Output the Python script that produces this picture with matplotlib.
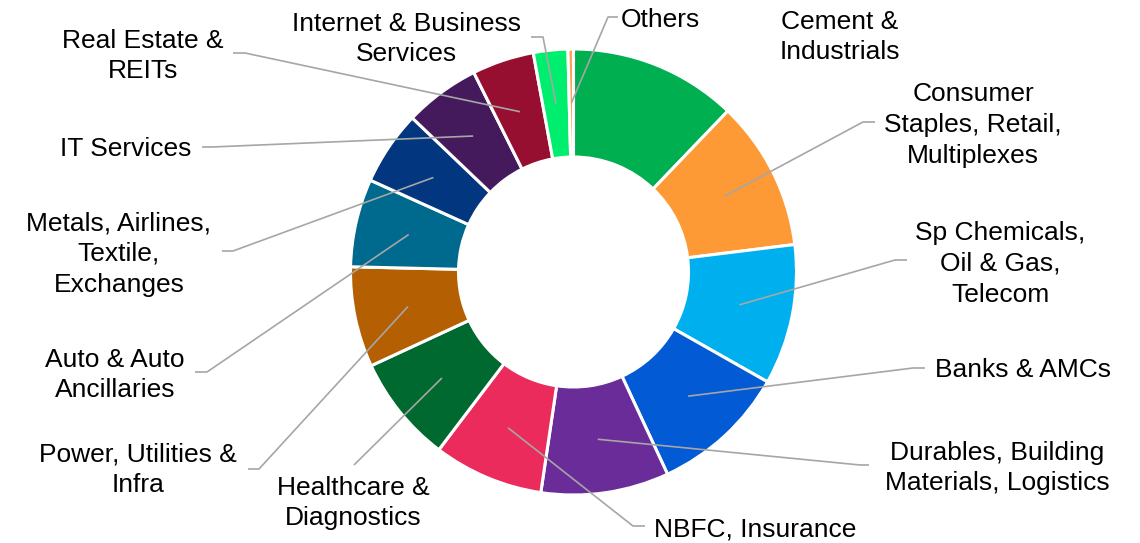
import numpy as np
import matplotlib
matplotlib.use("Agg")
import matplotlib.pyplot as plt

# ---- data ----
categories = [
    "Cement &\nIndustrials",
    "Consumer\nStaples, Retail,\nMultiplexes",
    "Sp Chemicals,\nOil & Gas,\nTelecom",
    "Banks & AMCs",
    "Durables, Building\nMaterials, Logistics",
    "NBFC, Insurance",
    "Healthcare &\nDiagnostics",
    "Power, Utilities &\nInfra",
    "Auto & Auto\nAncillaries",
    "Metals, Airlines,\nTextile,\nExchanges",
    "IT Services",
    "Real Estate &\nREITs",
    "Internet & Business\nServices",
    "Others",
]
weights = [12.2, 10.9, 10.2, 9.9, 9.3, 8.0, 7.8, 7.3, 6.4, 5.4, 5.5, 4.5, 2.5, 0.4]
colors = ["#00B050", "#FD9A35", "#00B0EE", "#025AD4", "#6A2C99", "#EA2B5C",
          "#006930", "#B45F02", "#00698E", "#02367E", "#441A5D", "#960F30",
          "#00EE6E", "#FFA050"]

W, H = 1140, 543
fig = plt.figure(figsize=(W / 100, H / 100), dpi=100)
ax = fig.add_axes([0, 0, 1, 1])
ax.set_xlim(0, W)
ax.set_ylim(0, H)
ax.set_aspect("equal")
ax.axis("off")

def P(x, y):
    """reference pixel coords (y down) -> axes data coords (y up)"""
    return x, H - y

cx, cy = P(573.5, 272)
R = 223
ring = 108
wedges, _ = ax.pie(weights, colors=colors, startangle=90, counterclock=False,
                   radius=R, center=(cx, cy),
                   wedgeprops=dict(width=ring, edgecolor="white", linewidth=2.2))
ax.set_xlim(0, W)
ax.set_ylim(0, H)

# label layout: text centre, leader path points (ref px, y down) ending near label
layout = [
    ((840, 37), []),
    ((973, 125), [(863, 122), (875, 122)]),
    ((1000, 264), [(895, 260), (907, 260)]),
    ((1023, 370), [(913, 368), (925, 368)]),
    ((997, 468), [(860, 465), (869, 465)]),
    ((755, 529), [(633, 526), (645, 526)]),
    ((353, 503), [(354, 465)]),
    ((138, 470), [(259, 469), (248, 469)]),
    ((115, 375), [(207, 372), (195, 372)]),
    ((119, 254), [(233, 251), (222, 251)]),
    ((126, 149), [(212, 147), (202, 147)]),
    ((143, 56), [(245, 53), (233, 53)]),
    ((406, 39), [(543, 37), (531, 37)]),
    ((660, 20), [(608, 17), (618, 17)]),
]

rmid = R - ring / 2
for w, lab, (tpos, path) in zip(wedges, categories, layout):
    tx, ty = P(*tpos)
    ax.text(tx, ty, lab, ha="center", va="center", fontsize=19,
            family=["Liberation Sans", "DejaVu Sans"], linespacing=1.36,
            color="black")
    if path:
        mid = np.deg2rad((w.theta1 + w.theta2) / 2)
        ax0, ay0 = cx + rmid * np.cos(mid), cy + rmid * np.sin(mid)
        xs = [ax0] + [P(*p)[0] for p in path]
        ys = [ay0] + [P(*p)[1] for p in path]
        ax.plot(xs, ys, color="#A6A6A6", lw=1.2, solid_capstyle="butt")

fig.savefig("out.png", dpi=100, facecolor="white")
